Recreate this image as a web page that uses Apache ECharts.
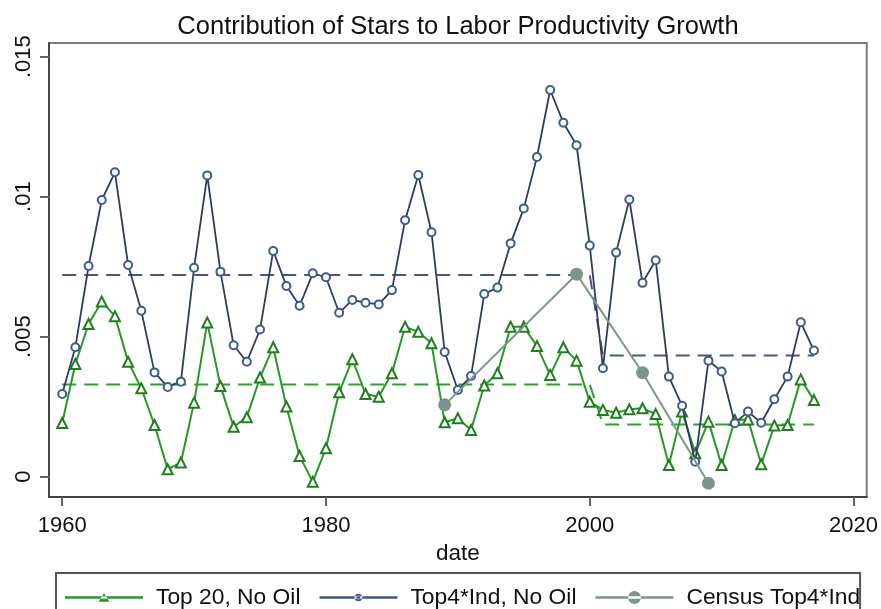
<!DOCTYPE html>
<html>
<head>
<meta charset="utf-8">
<script src="https://cdn.jsdelivr.net/npm/echarts@6/dist/echarts.min.js"></script>
<style>
html,body{margin:0;padding:0;background:#fff;}
#chart{width:881px;height:609px;}
</style>
</head>
<body>
<div id="chart"></div>
<script>
// ---- Data ----
const years = [1960,1961,1962,1963,1964,1965,1966,1967,1968,1969,
               1970,1971,1972,1973,1974,1975,1976,1977,1978,1979,
               1980,1981,1982,1983,1984,1985,1986,1987,1988,1989,
               1990,1991,1992,1993,1994,1995,1996,1997,1998,1999,
               2000,2001,2002,2003,2004,2005,2006,2007,2008,2009,
               2010,2011,2012,2013,2014,2015,2016,2017];

const top20NoOil = [0.00191,0.00402,0.00545,0.00625,0.00573,0.00410,0.00315,0.00184,0.00026,0.00050,
                    0.00264,0.00550,0.00323,0.00178,0.00212,0.00354,0.00462,0.00250,0.00073,-0.00019,
                    0.00101,0.00301,0.00419,0.00295,0.00285,0.00369,0.00535,0.00517,0.00476,0.00194,
                    0.00208,0.00166,0.00325,0.00369,0.00535,0.00535,0.00466,0.00363,0.00462,0.00414,
                    0.00267,0.00238,0.00228,0.00240,0.00244,0.00223,0.00041,0.00232,0.00083,0.00196,
                    0.00041,0.00202,0.00204,0.00044,0.00182,0.00184,0.00347,0.00273];

const top4IndNoOil = [0.00295,0.00462,0.00752,0.00988,0.01087,0.00756,0.00592,0.00372,0.00320,0.00339,
                      0.00746,0.01076,0.00732,0.00469,0.00410,0.00525,0.00806,0.00681,0.00610,0.00726,
                      0.00712,0.00585,0.00631,0.00621,0.00615,0.00666,0.00916,0.01077,0.00873,0.00445,
                      0.00309,0.00359,0.00652,0.00675,0.00833,0.00958,0.01142,0.01381,0.01264,0.01184,
                      0.00825,0.00387,0.00800,0.00990,0.00692,0.00773,0.00357,0.00253,0.00053,0.00414,
                      0.00375,0.00190,0.00232,0.00192,0.00276,0.00357,0.00551,0.00450];

const censusYears = [1989, 1999, 2004, 2009];
const censusTop4Ind = [0.00256, 0.00723, 0.00371, -0.00024];

// period averages (dashed reference lines)
const meanYears = [1960, 2000, 2001, 2017];
const top20Mean = [0.00329, 0.00329, 0.00186, 0.00186];
const top4IndMean = [0.00720, 0.00720, 0.00432, 0.00432];

const xTicks = [1960, 1980, 2000, 2020];
const yTicks = [0, 0.005, 0.01, 0.015];
const yTickLabels = ['0', '.005', '.01', '.015'];

const titleText = 'Contribution of Stars to Labor Productivity Growth';
const xAxisTitle = 'date';
const names = ['Top 20, No Oil', 'Top4*Ind, No Oil', 'Census Top4*Ind'];

// ---- Build chart ----
const pair = (xs, ys) => xs.map((x, i) => [x, ys[i]]);
const FONT = '"Liberation Sans", Arial, sans-serif';
const green = '#249a24';
const greenMarker = '#1f7f1f';
const navy = '#2f3a66';
const navyMarker = '#3c5c8c';
const census = '#7a978a';

// legend icons: a line with a marker in the middle, drawn in a 78x14 box
const corners = 'M0,0 L0.01,0 L0,0.01 Z M78,14 L77.99,14 L78,13.99 Z ';
const lineBar = 'M0,5.7 L78,5.7 L78,8.3 L0,8.3 Z ';
const iconTri = 'path://' + corners + lineBar + 'M33.5,11.3 L44.5,11.3 L39,2.7 Z';
const iconHollow = 'path://' + corners + lineBar +
  'M35.2,7 A3.8,3.8 0 1,0 42.8,7 A3.8,3.8 0 1,0 35.2,7 Z M37,7 A2,2 0 1,1 41,7 A2,2 0 1,1 37,7 Z';
const iconDot = 'path://' + corners + lineBar + 'M32.5,7 A6.5,6.5 0 1,0 45.5,7 A6.5,6.5 0 1,0 32.5,7 Z';

const chart = echarts.init(document.getElementById('chart'), null, {renderer: 'canvas'});
chart.setOption({
  animation: false,
  backgroundColor: '#ffffff',
  title: {
    text: titleText,
    left: 453,
    textAlign: 'center',
    top: 9,
    textStyle: {fontFamily: FONT, fontSize: 25.5, fontWeight: 'normal', color: '#111'}
  },
  grid: {
    left: 49, right: 13, top: 43, bottom: 112,
    show: true, borderColor: '#7a7a7a', borderWidth: 2, backgroundColor: '#fff'
  },
  legend: {
    data: [
      {name: names[0], icon: iconTri, itemStyle: {color: '#2b962b'}},
      {name: names[1], icon: iconHollow, itemStyle: {color: '#46558a'}},
      {name: names[2], icon: iconDot, itemStyle: {color: census}}
    ],
    left: 56, top: 573,
    padding: [13, 0, 40, 9],
    borderColor: '#555', borderWidth: 2,
    itemWidth: 78, itemHeight: 14, itemGap: 19,
    textStyle: {fontFamily: FONT, fontSize: 22.8, color: '#111', padding: [0, 0, 0, 8]}
  },
  xAxis: {
    type: 'value', min: 1959, max: 2021,
    name: xAxisTitle, nameLocation: 'middle', nameGap: 37,
    nameTextStyle: {fontFamily: FONT, fontSize: 22.5, color: '#111'},
    axisLine: {show: true, onZero: false, lineStyle: {color: '#444', width: 2}},
    axisTick: {show: true, length: 9, lineStyle: {color: '#666', width: 2}, customValues: xTicks},
    axisLabel: {fontFamily: FONT, fontSize: 22, color: '#111', margin: 18, customValues: xTicks,
                formatter: v => String(v)},
    splitLine: {show: false}
  },
  yAxis: {
    type: 'value', min: -0.000732, max: 0.01549,
    axisLine: {show: true, onZero: false, lineStyle: {color: '#444', width: 2}},
    axisTick: {show: true, length: 9, lineStyle: {color: '#666', width: 2}, customValues: yTicks},
    axisLabel: {
      fontFamily: FONT, fontSize: 22, color: '#111', margin: 14, rotate: 90,
      customValues: yTicks,
      formatter: v => { const i = yTicks.findIndex(t => Math.abs(t - v) < 1e-9); return i >= 0 ? yTickLabels[i] : ''; }
    },
    splitLine: {show: false}
  },
  series: [
    {
      name: names[0], type: 'line', data: pair(years, top20NoOil),
      symbol: 'emptyTriangle', symbolSize: 10,
      lineStyle: {color: green, width: 2},
      itemStyle: {color: greenMarker, borderWidth: 1.5},
      z: 3
    },
    {
      name: names[1], type: 'line', data: pair(years, top4IndNoOil),
      symbol: 'emptyCircle', symbolSize: 8,
      lineStyle: {color: navy, width: 1.8},
      itemStyle: {color: navyMarker, borderWidth: 1.5},
      z: 4
    },
    {
      name: names[2], type: 'line', data: pair(censusYears, censusTop4Ind),
      symbol: 'circle', symbolSize: 13,
      lineStyle: {color: census, width: 2},
      itemStyle: {color: census},
      z: 5
    },
    {
      name: 'top20mean', type: 'line', data: pair(meanYears, top20Mean),
      symbol: 'none', silent: true,
      lineStyle: {color: '#2ea02e', width: 2, type: [14, 8]},
      z: 2
    },
    {
      name: 'top4mean', type: 'line', data: pair(meanYears, top4IndMean),
      symbol: 'none', silent: true,
      lineStyle: {color: '#4a5582', width: 2, type: [14, 8]},
      z: 2
    }
  ]
});
</script>
</body>
</html>
